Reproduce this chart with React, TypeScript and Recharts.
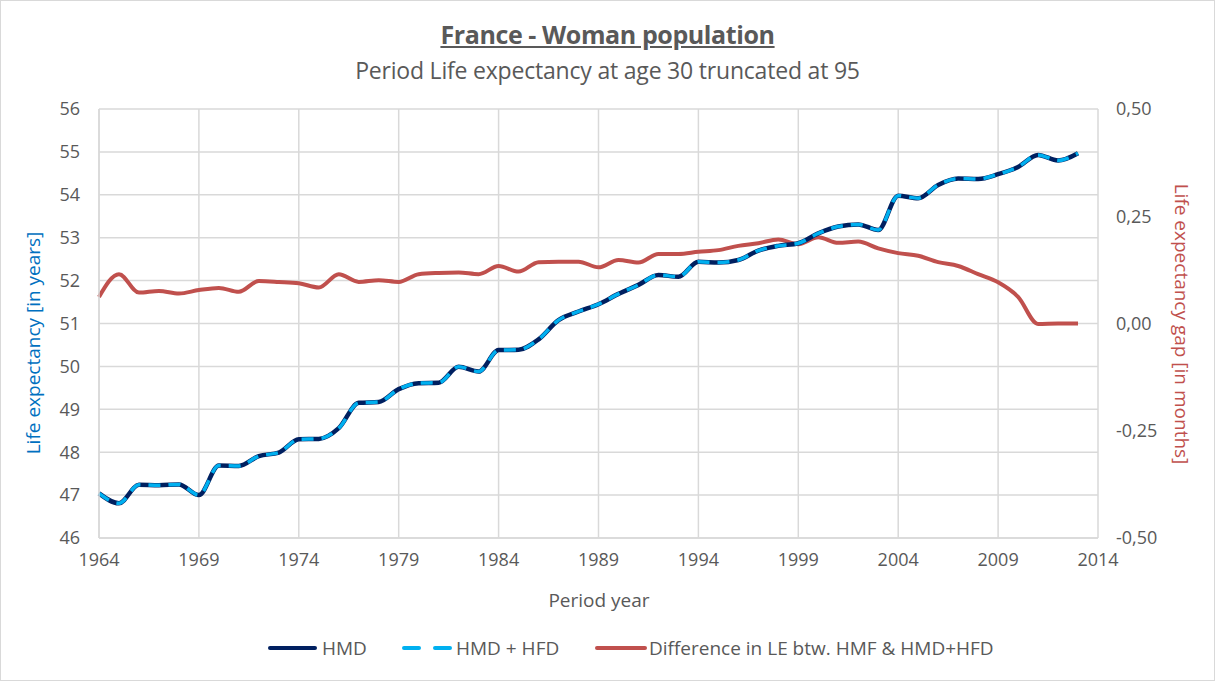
import { LineChart, Line, XAxis, YAxis, CartesianGrid } from 'recharts'

const years = [
  1964, 1965, 1966, 1967, 1968, 1969, 1970, 1971, 1972, 1973,
  1974, 1975, 1976, 1977, 1978, 1979, 1980, 1981, 1982, 1983,
  1984, 1985, 1986, 1987, 1988, 1989, 1990, 1991, 1992, 1993,
  1994, 1995, 1996, 1997, 1998, 1999, 2000, 2001, 2002, 2003,
  2004, 2005, 2006, 2007, 2008, 2009, 2010, 2011, 2012, 2013,
]

const hmd = [
  47.04, 46.81, 47.24, 47.23, 47.25, 47.0, 47.69, 47.68, 47.91, 47.99,
  48.3, 48.31, 48.56, 49.15, 49.17, 49.47, 49.61, 49.62, 49.99, 49.88,
  50.38, 50.39, 50.63, 51.08, 51.28, 51.45, 51.69, 51.9, 52.13, 52.09,
  52.44, 52.42, 52.48, 52.7, 52.81, 52.87, 53.1, 53.26, 53.31, 53.18,
  53.98, 53.92, 54.23, 54.38, 54.37, 54.48, 54.65, 54.93, 54.8, 54.97,
]

const hmdHfd = [
  47.04, 46.81, 47.24, 47.23, 47.25, 47.0, 47.69, 47.68, 47.91, 47.99,
  48.3, 48.31, 48.56, 49.15, 49.17, 49.47, 49.61, 49.62, 49.99, 49.88,
  50.38, 50.39, 50.63, 51.08, 51.28, 51.45, 51.69, 51.9, 52.13, 52.09,
  52.44, 52.42, 52.48, 52.7, 52.81, 52.87, 53.1, 53.26, 53.31, 53.18,
  53.98, 53.92, 54.23, 54.38, 54.37, 54.48, 54.65, 54.93, 54.8, 54.97,
]

const gap = [
  0.062, 0.115, 0.072, 0.076, 0.07, 0.078, 0.083, 0.074, 0.099, 0.097,
  0.094, 0.084, 0.115, 0.097, 0.101, 0.097, 0.115, 0.118, 0.119, 0.115,
  0.134, 0.121, 0.143, 0.144, 0.144, 0.131, 0.148, 0.142, 0.162, 0.162,
  0.167, 0.171, 0.181, 0.187, 0.196, 0.185, 0.201, 0.188, 0.191, 0.175,
  0.164, 0.158, 0.143, 0.134, 0.115, 0.096, 0.062, -0.001, 0.0, 0.0,
]

const xTicks = [1964, 1969, 1974, 1979, 1984, 1989, 1994, 1999, 2004, 2009, 2014]
const leftTicks = [46, 47, 48, 49, 50, 51, 52, 53, 54, 55, 56]
const rightTicks = [-0.5, -0.25, 0, 0.25, 0.5]

const data = years.map((year, i) => ({ year, hmd: hmd[i], hmdHfd: hmdHfd[i], gap: gap[i] }))

const FONT = '"Open Sans", sans-serif'
const GREY = '#595959'
const tickStyle = { fill: GREY, fontSize: 18, fontFamily: FONT }

export default function App() {
  return (
    <div
      style={{
        position: 'absolute',
        left: 0,
        top: 0,
        width: 1215,
        height: 681,
        background: '#fff',
        fontFamily: FONT,
        color: GREY,
        border: '1px solid #d9d9d9',
        boxSizing: 'border-box',
        overflow: 'hidden',
      }}
    >
      <div style={{ position: 'absolute', top: 17, width: '100%', textAlign: 'center', fontSize: 25, fontWeight: 700, textDecoration: 'underline', letterSpacing: -0.4, lineHeight: '32px' }}>
        France - Woman population
      </div>
      <div style={{ position: 'absolute', top: 54, width: '100%', textAlign: 'center', fontSize: 23, letterSpacing: -0.2, lineHeight: '30px' }}>
        Period Life expectancy at age 30 truncated at 95
      </div>

      <div style={{ position: 'absolute', left: 0, top: 0 }}>
        <LineChart width={1213} height={679} data={data} margin={{ top: 108, right: 0, bottom: 102, left: 0 }}>
          <CartesianGrid stroke="#d9d9d9" strokeWidth={1.5} yAxisId="left" />
          <XAxis
            dataKey="year"
            type="number"
            domain={[1964, 2014]}
            ticks={xTicks}
            tickLine={false}
            axisLine={{ stroke: '#d9d9d9', strokeWidth: 1.5 }}
            tick={tickStyle}
            tickMargin={9}
            height={40}
          />
          <YAxis
            yAxisId="left"
            domain={[46, 56]}
            ticks={leftTicks}
            tickLine={false}
            axisLine={{ stroke: '#d9d9d9', strokeWidth: 1.5 }}
            tick={tickStyle}
            tickMargin={13}
            width={98}
          />
          <YAxis
            yAxisId="right"
            orientation="right"
            domain={[-0.5, 0.5]}
            ticks={rightTicks}
            tickFormatter={(v: number) => v.toFixed(2).replace('.', ',')}
            tickLine={false}
            axisLine={false}
            tick={tickStyle}
            tickMargin={12}
            width={116}
          />
          <Line yAxisId="right" dataKey="gap" type="monotone" stroke="#C0504D" strokeWidth={4} dot={false} isAnimationActive={false} />
          <Line yAxisId="left" dataKey="hmd" type="monotone" stroke="#002060" strokeWidth={4.5} dot={false} isAnimationActive={false} />
          <Line yAxisId="left" dataKey="hmdHfd" type="monotone" stroke="#00B0F0" strokeWidth={3.5} strokeDasharray="12 8" dot={false} isAnimationActive={false} />
        </LineChart>
      </div>

      <div style={{ position: 'absolute', left: 32, top: 342, transform: 'translate(-50%, -50%) rotate(-90deg)', whiteSpace: 'nowrap', color: '#0070C0', fontSize: 19 }}>
        Life expectancy [in years]
      </div>
      <div style={{ position: 'absolute', left: 1181, top: 323, transform: 'translate(-50%, -50%) rotate(90deg)', whiteSpace: 'nowrap', color: '#C0504D', fontSize: 19 }}>
        Life expectancy gap [in months]
      </div>
      <div style={{ position: 'absolute', left: 598, top: 599, transform: 'translate(-50%, -50%)', whiteSpace: 'nowrap', fontSize: 19 }}>
        Period year
      </div>

      <svg style={{ position: 'absolute', left: 0, top: 630 }} width={1215} height={34}>
        <line x1={269} x2={314} y1={17} y2={17} stroke="#002060" strokeWidth={4} strokeLinecap="round" />
        <text x={321} y={24} fill={GREY} fontSize={19} fontFamily={FONT}>HMD</text>
        <line x1={403} x2={449} y1={17} y2={17} stroke="#00B0F0" strokeWidth={4} strokeDasharray="15 16" strokeLinecap="round" />
        <text x={455} y={24} fill={GREY} fontSize={19} fontFamily={FONT}>HMD + HFD</text>
        <line x1={596} x2={644} y1={17} y2={17} stroke="#C0504D" strokeWidth={4} strokeLinecap="round" />
        <text x={648} y={24} fill={GREY} fontSize={19} fontFamily={FONT}>Difference in LE btw. HMF &amp; HMD+HFD</text>
      </svg>
    </div>
  )
}
